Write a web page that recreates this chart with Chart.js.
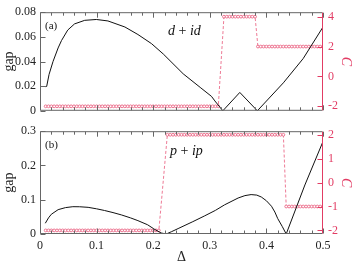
<!DOCTYPE html>
<html>
<head>
<meta charset="utf-8">
<script src="https://cdn.jsdelivr.net/npm/chart.js@4.4.1/dist/chart.umd.min.js"></script>
<style>
  html, body { margin: 0; padding: 0; background: #fff; }
  #wrap { position: relative; width: 354px; height: 267px; overflow: hidden; }
  canvas { position: absolute; left: 0; }
  #chartA { top: 0; }
  #chartB { top: 119px; }
</style>
</head>
<body>
<div id="wrap">
  <canvas id="chartA" width="354" height="123"></canvas>
  <canvas id="chartB" width="354" height="148"></canvas>
</div>
<script>
// --- data ---
const deltaGrid = [
  0.01, 0.015, 0.02, 0.025, 0.03, 0.035, 0.04, 0.045, 0.05, 0.055,
  0.06, 0.065, 0.07, 0.075, 0.08, 0.085, 0.09, 0.095, 0.1, 0.105,
  0.11, 0.115, 0.12, 0.125, 0.13, 0.135, 0.14, 0.145, 0.15, 0.155,
  0.16, 0.165, 0.17, 0.175, 0.18, 0.185, 0.19, 0.195, 0.2, 0.205,
  0.21, 0.215, 0.22, 0.225, 0.23, 0.235, 0.24, 0.245, 0.25, 0.255,
  0.26, 0.265, 0.27, 0.275, 0.28, 0.285, 0.29, 0.295, 0.3, 0.305,
  0.31, 0.315, 0.32, 0.325, 0.33, 0.335, 0.34, 0.345, 0.35, 0.355,
  0.36, 0.365, 0.37, 0.375, 0.38, 0.385, 0.39, 0.395, 0.4, 0.405,
  0.41, 0.415, 0.42, 0.425, 0.43, 0.435, 0.44, 0.445, 0.45, 0.455,
  0.46, 0.465, 0.47, 0.475, 0.48, 0.485, 0.49, 0.495, 0.5
];

// Chern number, panel (a) d+id
const chernA = [
  -2, -2, -2, -2, -2, -2, -2, -2, -2, -2,
  -2, -2, -2, -2, -2, -2, -2, -2, -2, -2,
  -2, -2, -2, -2, -2, -2, -2, -2, -2, -2,
  -2, -2, -2, -2, -2, -2, -2, -2, -2, -2,
  -2, -2, -2, -2, -2, -2, -2, -2, -2, -2,
  -2, -2, -2, -2, -2, -2, -2, -2, -2, -2,
  -2, -2, null, 4, 4, 4, 4, 4, 4, 4,
  4, 4, 4, 4, 4, 2, 2, 2, 2, 2,
  2, 2, 2, 2, 2, 2, 2, 2, 2, 2,
  2, 2, 2, 2, 2, 2, 2, 2, 2
];

// Chern number, panel (b) p+ip
const chernB = [
  -2, -2, -2, -2, -2, -2, -2, -2, -2, -2,
  -2, -2, -2, -2, -2, -2, -2, -2, -2, -2,
  -2, -2, -2, -2, -2, -2, -2, -2, -2, -2,
  -2, -2, -2, -2, -2, -2, -2, -2, -2, -2,
  -2, null, null, 2, 2, 2, 2, 2, 2, 2,
  2, 2, 2, 2, 2, 2, 2, 2, 2, 2,
  2, 2, 2, 2, 2, 2, 2, 2, 2, 2,
  2, 2, 2, 2, 2, 2, 2, 2, 2, 2,
  2, 2, 2, 2, 2, -1, -1, -1, -1, -1,
  -1, -1, -1, -1, -1, -1, -1, -1, -1
];

// gap curves
const gapADelta = [0.0094, 0.0118, 0.016, 0.023, 0.032, 0.038, 0.049, 0.061, 0.079, 0.0995,
  0.12, 0.15, 0.173, 0.197, 0.218, 0.253, 0.283, 0.303, 0.309, 0.323, 0.353, 0.384, 0.43, 0.465, 0.5];
const gapAValue = [0.0196, 0.0198, 0.0295, 0.040, 0.051, 0.057, 0.0655, 0.0705, 0.0734, 0.0741,
  0.0729, 0.068, 0.0619, 0.0545, 0.046, 0.030, 0.019, 0.0117, 0.008, 0.0, 0.0149, 0.0, 0.0227, 0.0424, 0.068];

const gapBDelta = [0.0094, 0.015, 0.02, 0.032, 0.045, 0.058, 0.07, 0.085, 0.1, 0.114, 0.129, 0.144, 0.16,
  0.173, 0.19, 0.203, 0.214, 0.223, 0.232, 0.244, 0.27, 0.291, 0.31, 0.326, 0.35, 0.362, 0.373, 0.383,
  0.391, 0.4, 0.409, 0.415, 0.42, 0.428, 0.435, 0.468, 0.5];
const gapBValue = [0.0314, 0.047, 0.0575, 0.071, 0.077, 0.0797, 0.0795, 0.0778, 0.0735, 0.0686, 0.0625, 0.0556, 0.047,
  0.039, 0.027, 0.013, 0.003, 0.0, 0.0065, 0.0158, 0.036, 0.053, 0.069, 0.085, 0.105, 0.112, 0.115, 0.1135,
  0.108, 0.097, 0.081, 0.064, 0.045, 0.022, 0.0, 0.143, 0.27];

// ticks
const xTicks = [0, 0.1, 0.2, 0.3, 0.4, 0.5];
const xTickLabels = ['0', '0.1', '0.2', '0.3', '0.4', '0.5'];
const xMinorTicks = [0.02, 0.04, 0.06, 0.08, 0.12, 0.14, 0.16, 0.18, 0.22, 0.24, 0.26, 0.28,
  0.32, 0.34, 0.36, 0.38, 0.42, 0.44, 0.46, 0.48];
const gapTicksA = [0, 0.02, 0.04, 0.06, 0.08];
const gapLabelsA = ['0', '0.02', '0.04', '0.06', '0.08'];
const chernTicksA = [-2, 0, 2, 4];
const gapTicksB = [0, 0.1, 0.2, 0.3];
const gapLabelsB = ['0', '0.1', '0.2', '0.3'];
const chernTicksB = [-2, -1, 0, 1, 2];

const axisGray = '#666';
const pink = '#e23c64';
const markerPink = '#e8587a';
const serif = '"Liberation Serif", "DejaVu Serif", serif';

// inward tick marks, frame and panel labels
const frameTicks = {
  id: 'frameTicks',
  afterDraw(chart, args, opts) {
    const { ctx, chartArea: a, scales } = chart;
    ctx.save();
    ctx.lineWidth = 1;
    ctx.strokeStyle = axisGray;
    const line = (x1, y1, x2, y2) => { ctx.beginPath(); ctx.moveTo(x1, y1); ctx.lineTo(x2, y2); ctx.stroke(); };
    const t = a.top + 0.5, b = a.bottom - 0.5, l = a.left + 0.5, r = a.right - 0.5;
    line(l, t, r, t); line(l, b, r, b); line(l, t, l, b);
    xTicks.forEach(v => {
      const px = Math.round(scales.x.getPixelForValue(v)) + 0.5;
      line(px, b, px, b - 5); line(px, t, px, t + 5);
    });
    xMinorTicks.forEach(v => {
      const px = Math.round(scales.x.getPixelForValue(v)) + 0.5;
      line(px, b, px, b - 3); line(px, t, px, t + 3);
    });
    opts.leftTicks.forEach(v => {
      const py = Math.round(scales.y.getPixelForValue(v)) + 0.5;
      line(l, py, l + 5, py);
    });
    ctx.strokeStyle = pink;
    line(r, t, r, b);
    opts.rightTicks.forEach(v => {
      const py = Math.round(scales.y1.getPixelForValue(v)) + 0.5;
      line(r, py, r - 5, py);
    });
    // panel tag
    ctx.fillStyle = '#111';
    ctx.textBaseline = 'alphabetic';
    ctx.font = '11px ' + serif;
    ctx.fillText(opts.tag, a.left + 5, a.top + opts.tagY);
    // formula like "d + id"
    let x = opts.textX;
    opts.text.forEach(part => {
      ctx.font = (part.italic ? 'italic ' : '') + '14px ' + serif;
      ctx.fillText(part.s, x, a.top + opts.textY);
      x += ctx.measureText(part.s).width;
    });
    ctx.restore();
  }
};

function points(xs, ys) {
  return xs.map((d, i) => ({ x: d, y: ys[i] }));
}

function makeChart(id, cfg) {
  return new Chart(document.getElementById(id), {
    type: 'line',
    data: {
      datasets: [
        {
          data: points(cfg.gapDelta, cfg.gapValue),
          yAxisID: 'y',
          borderColor: '#111',
          borderWidth: 1,
          pointRadius: 0,
          tension: 0
        },
        {
          data: points(deltaGrid, cfg.chern),
          yAxisID: 'y1',
          borderColor: markerPink,
          borderWidth: 0.8,
          borderDash: [3, 2],
          spanGaps: true,
          pointStyle: 'circle',
          pointRadius: 1.4,
          pointBorderWidth: 0.8,
          pointBorderColor: markerPink,
          pointBackgroundColor: '#fff',
          tension: 0
        }
      ]
    },
    options: {
      responsive: false,
      devicePixelRatio: 1,
      animation: false,
      layout: { padding: cfg.padding },
      plugins: {
        legend: { display: false },
        tooltip: { enabled: false },
        frameTicks: cfg.frame
      },
      scales: {
        x: cfg.xScale,
        y: {
          position: 'left',
          min: cfg.gapMin, max: cfg.gapMax,
          afterBuildTicks: s => { s.ticks = cfg.gapTicks.map(v => ({ value: v })); },
          afterFit: s => { s.width = 40; },
          grid: { display: false, drawTicks: false },
          border: { display: false },
          ticks: {
            padding: 4,
            color: '#222',
            font: { family: serif, size: 12 },
            callback: (v, i) => cfg.gapLabels[i]
          },
          title: { display: true, text: 'gap', color: '#222', padding: { top: 1, bottom: 0 },
            font: { family: serif, size: 14 } }
        },
        y1: {
          position: 'right',
          min: cfg.cMin, max: cfg.cMax,
          afterBuildTicks: s => { s.ticks = cfg.chernTicks.map(v => ({ value: v })); },
          afterFit: s => { s.width = 31; },
          grid: { display: false, drawTicks: false },
          border: { display: false },
          ticks: {
            padding: 5,
            color: pink,
            font: { family: serif, size: 12 },
            callback: v => String(v)
          },
          title: { display: true, text: 'C', color: pink, padding: 0,
            font: { family: serif, size: 14, style: 'italic' } }
        }
      }
    },
    plugins: [frameTicks]
  });
}

makeChart('chartA', {
  gapDelta: gapADelta, gapValue: gapAValue, chern: chernA,
  gapMin: 0, gapMax: 0.08, gapTicks: gapTicksA, gapLabels: gapLabelsA,
  cMin: -2.3, cMax: 4.3, chernTicks: chernTicksA,
  padding: { top: 8, bottom: 6, left: 0, right: 0 },
  xScale: { type: 'linear', min: 0, max: 0.5, display: false },
  frame: {
    leftTicks: gapTicksA, rightTicks: chernTicksA,
    tag: '(a)', tagY: 17,
    text: [{ s: 'd', italic: true }, { s: ' + ', italic: false }, { s: 'id', italic: true }],
    textX: 168, textY: 23
  }
});

makeChart('chartB', {
  gapDelta: gapBDelta, gapValue: gapBValue, chern: chernB,
  gapMin: 0, gapMax: 0.3, gapTicks: gapTicksB, gapLabels: gapLabelsB,
  cMin: -2.15, cMax: 2.15, chernTicks: chernTicksB,
  padding: { top: 8, bottom: 0, left: 0, right: 0 },
  xScale: {
    type: 'linear', min: 0, max: 0.5,
    afterBuildTicks: s => { s.ticks = xTicks.map(v => ({ value: v })); },
    afterFit: s => { s.height = 33; },
    grid: { display: false, drawTicks: false },
    border: { display: false },
    ticks: {
      padding: 5,
      color: '#222',
      maxRotation: 0,
      font: { family: serif, size: 12 },
      callback: (v, i) => xTickLabels[i]
    },
    title: { display: true, text: 'Δ', color: '#222', padding: { top: 0, bottom: 1 },
      font: { family: serif, size: 14 } }
  },
  frame: {
    leftTicks: gapTicksB, rightTicks: chernTicksB,
    tag: '(b)', tagY: 17,
    text: [{ s: 'p', italic: true }, { s: ' + ', italic: false }, { s: 'ip', italic: true }],
    textX: 170, textY: 24
  }
});
</script>
</body>
</html>
